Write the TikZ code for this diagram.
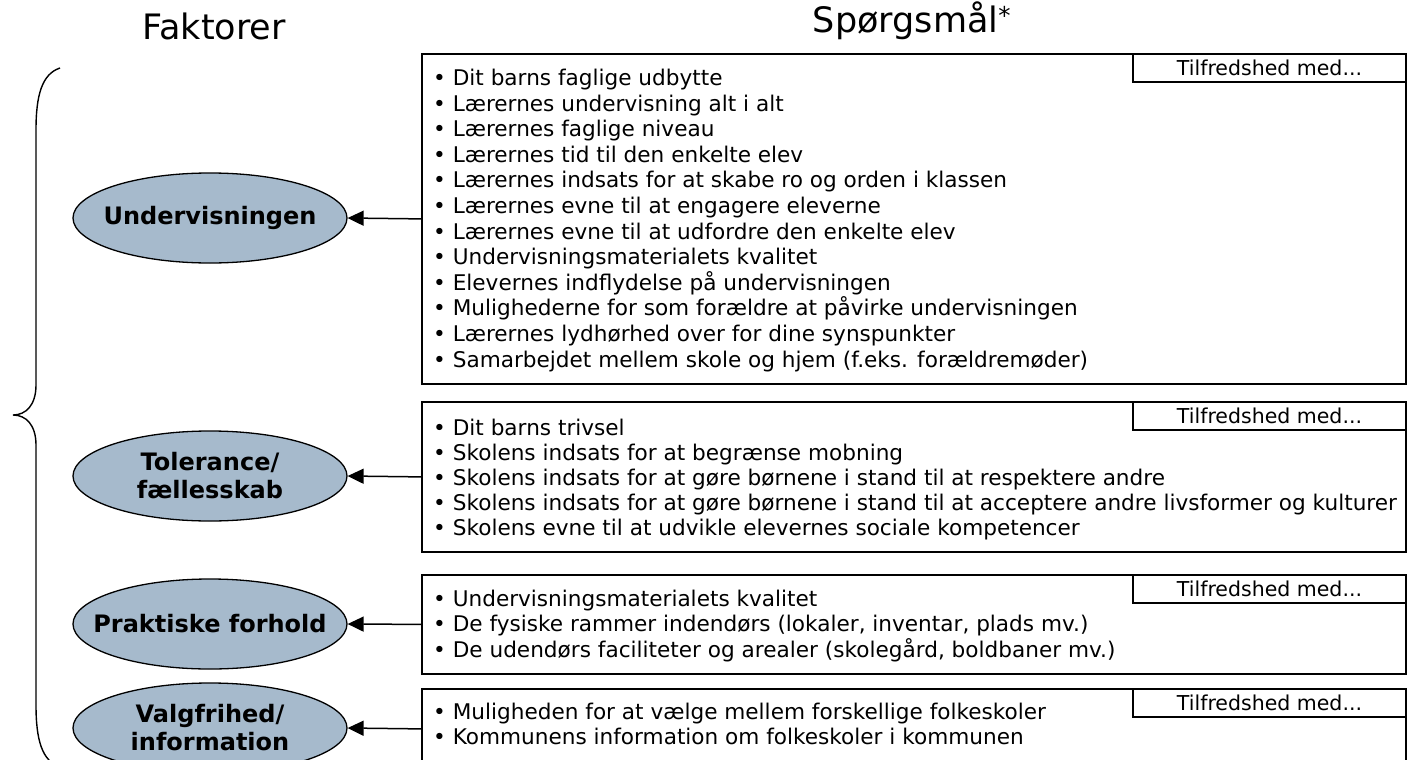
\documentclass[tikz,border=0pt]{standalone}
\usepackage{fontspec}
\setmainfont{DejaVu Sans}
\usetikzlibrary{shapes.geometric,arrows.meta}
\definecolor{ellfill}{RGB}{166,186,204}
\begin{document}
\begin{tikzpicture}[x=1bp,y=-1bp,
  qbox/.style={draw, line width=1.8bp, rectangle, inner sep=0, minimum width=984bp, anchor=north west},
  tabbox/.style={draw, line width=1.6bp, rectangle, inner sep=0, minimum width=273bp, minimum height=28bp, anchor=north east, font=\fontsize{20.5bp}{24bp}\selectfont},
  factor/.style={ellipse, draw, line width=1.3bp, fill=ellfill, minimum width=274bp, minimum height=90bp, inner sep=0},
  factortext/.style={inner sep=0, align=center, font=\bfseries\fontsize{24bp}{28bp}\selectfont},
  item/.style={anchor=base west, inner sep=0, font=\fontsize{21.6bp}{25.6bp}\selectfont},
  titletext/.style={anchor=base, inner sep=0, font=\fontsize{35bp}{40bp}\selectfont},
  arr/.style={-{Triangle[length=16bp,width=15bp]}, line width=1.5bp}]
\useasboundingbox (0,0) rectangle (1407,759);

% titles
\node[titletext] (tf) at (214,40) {Faktorer};
\node[titletext] (ts) at (912,33) {Spørgsmål\textsuperscript{*}};

% brace
\draw[line width=1.4bp] (60,68) .. controls (42,74) and (36,95) .. (36,130)
  -- (36,385) .. controls (36,405) and (26,415) .. (13,415)
  .. controls (26,415) and (36,425) .. (36,445)
  -- (36,705) .. controls (36,740) and (42,761) .. (60,767);

% question boxes
\node[qbox, minimum height=330bp] (b1) at (421,53) {};
\node[qbox, minimum height=150bp] (b2) at (421,401) {};
\node[qbox, minimum height=99bp] (b3) at (421,574) {};
\node[qbox, minimum height=80bp] (b4) at (421,688) {};

\node[tabbox] (t1) at (b1.north east) {Tilfredshed med...};
\node[tabbox] (t2) at (b2.north east) {Tilfredshed med...};
\node[tabbox] (t3) at (b3.north east) {Tilfredshed med...};
\node[tabbox] (t4) at (b4.north east) {Tilfredshed med...};

% items
\foreach \t [count=\i] in {
  Dit barns faglige udbytte,
  Lærernes undervisning alt i alt,
  Lærernes faglige niveau,
  Lærernes tid til den enkelte elev,
  Lærernes indsats for at skabe ro og orden i klassen,
  Lærernes evne til at engagere eleverne,
  Lærernes evne til at udfordre den enkelte elev,
  Undervisningsmaterialets kvalitet,
  Elevernes indflydelse på undervisningen,
  Mulighederne for som forældre at påvirke undervisningen,
  Lærernes lydhørhed over for dine synspunkter,
  Samarbejdet mellem skole og hjem (f.eks. forældremøder)}
  \node[item] (ua\i) at (433,{85.5+25.6*(\i-1)}) {• \t};

\foreach \t [count=\i] in {
  Dit barns trivsel,
  Skolens indsats for at begrænse mobning,
  Skolens indsats for at gøre børnene i stand til at respektere andre,
  Skolens indsats for at gøre børnene i stand til at acceptere andre livsformer og kulturer,
  Skolens evne til at udvikle elevernes sociale kompetencer}
  \node[item] (ub\i) at (433,{435+25*(\i-1)}) {• \t};

\foreach \t [count=\i] in {
  Undervisningsmaterialets kvalitet,
  {De fysiske rammer indendørs (lokaler, inventar, plads mv.)},
  {De udendørs faciliteter og arealer (skolegård, boldbaner mv.)}}
  \node[item] (uc\i) at (433,{606+25.6*(\i-1)}) {• \t};

\foreach \t [count=\i] in {
  Muligheden for at vælge mellem forskellige folkeskoler,
  Kommunens information om folkeskoler i kommunen}
  \node[item] (ud\i) at (433,{719+25.6*(\i-1)}) {• \t};

% factors
\node[factor] (e1) at (210,218) {};
\node[factor] (e2) at (210,476) {};
\node[factor] (e3) at (210,624) {};
\node[factor] (e4) at (210,728) {};
\node[factortext] (l1) at (e1.center) {Undervisningen};
\node[factortext] (l2) at (e2.center) {Tolerance/\\fællesskab};
\node[factortext] (l3) at (e3.center) {Praktiske forhold};
\node[factortext] (l4) at (e4.center) {Valgfrihed/\\information};

% arrows
\draw[arr] (b1.west) -- (e1.east);
\draw[arr] (b2.west) -- (e2.east);
\draw[arr] (b3.west) -- (e3.east);
\draw[arr] (b4.west) -- (e4.east);
\end{tikzpicture}
\end{document}
